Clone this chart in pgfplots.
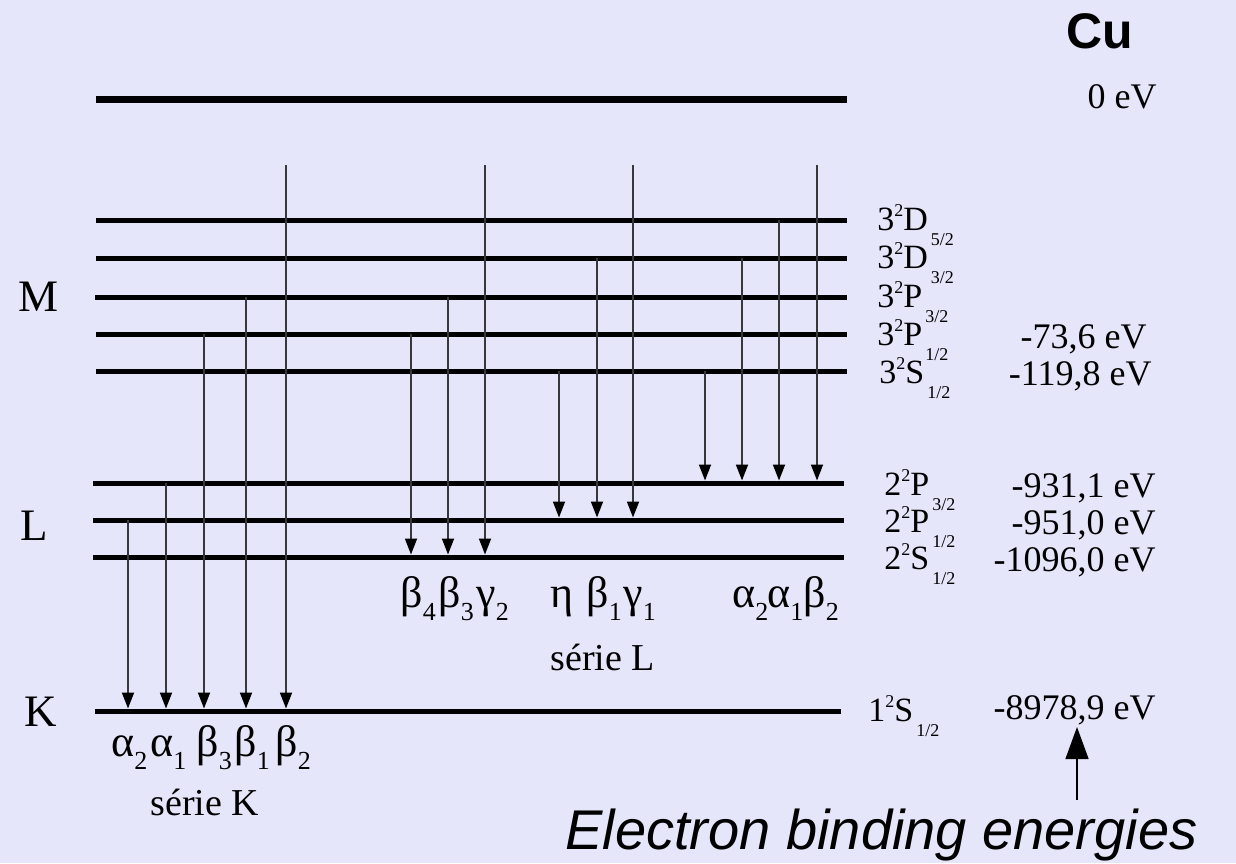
\documentclass[border=0pt]{standalone}
\usepackage{fontspec}
\setmainfont{Liberation Serif}
\newfontfamily\sansf{Liberation Sans}
\usepackage{pgfplots}
\pgfplotsset{compat=1.18}
\usetikzlibrary{arrows.meta}
\definecolor{bg}{RGB}{230,230,250}
\definecolor{shaft}{RGB}{55,55,60}
\newcommand{\term}[3]{\fontsize{17pt}{17pt}\selectfont #1\raisebox{0.40em}{\fontsize{9pt}{9pt}\selectfont 2}#2\kern1.5pt\raisebox{-0.45em}{\fontsize{9pt}{9pt}\selectfont #3}}
\newcommand{\gs}[2]{{\fontsize{22pt}{22pt}\selectfont #1}\raisebox{-6.5pt}{\fontsize{13pt}{13pt}\selectfont #2}}
\newcommand{\en}[1]{\fontsize{18pt}{18pt}\selectfont #1}
\begin{document}
\begin{tikzpicture}
\fill[bg] (0,0) rectangle (618pt,431.5pt);
\begin{axis}[scale only axis, width=618pt, height=431.5pt,
  xmin=0, xmax=1236, ymin=0, ymax=863, y dir=reverse, hide axis, clip=false,
  lev/.style={black, line width=2.5pt},
  arr/.style={shaft, line width=0.9pt, -{Triangle[length=8pt,width=6pt,color=black]}}]
% energy levels
\addplot[black, line width=3.5pt] coordinates {(96,99) (847,99)};
\addplot[lev] coordinates {(96,220) (847,220)};
\addplot[lev] coordinates {(96,258) (847,258)};
\addplot[lev] coordinates {(95,297) (847,297)};
\addplot[lev] coordinates {(96,334) (847,334)};
\addplot[lev] coordinates {(96,371) (847,371)};
\addplot[lev] coordinates {(93,483) (844,483)};
\addplot[lev] coordinates {(93,520) (844,520)};
\addplot[lev] coordinates {(93,557) (844,557)};
\addplot[lev] coordinates {(95,711) (841,711)};
% K series
\addplot[arr] coordinates {(128,520) (128,708.5)};
\addplot[arr] coordinates {(166,483) (166,708.5)};
\addplot[arr] coordinates {(204,334) (204,708.5)};
\addplot[arr] coordinates {(246,297) (246,708.5)};
\addplot[arr] coordinates {(286,165) (286,708.5)};
% L series
\addplot[arr] coordinates {(411,334) (411,554.5)};
\addplot[arr] coordinates {(448,297) (448,554.5)};
\addplot[arr] coordinates {(485,165) (485,554.5)};
\addplot[arr] coordinates {(559,371) (559,517.5)};
\addplot[arr] coordinates {(597,258) (597,517.5)};
\addplot[arr] coordinates {(633,165) (633,517.5)};
\addplot[arr] coordinates {(705,371) (705,480.5)};
\addplot[arr] coordinates {(742,258) (742,480.5)};
\addplot[arr] coordinates {(779,220) (779,480.5)};
\addplot[arr] coordinates {(817,165) (817,480.5)};
% binding-energy arrow
\addplot[black, line width=0.7pt, -{Triangle[length=16pt,width=11.5pt]}] coordinates {(1077,800) (1077,727)};
% shell names
\node[anchor=base] at (axis cs:39,311) {\fontsize{22.5pt}{24pt}\selectfont M};
\node[anchor=base] at (axis cs:34,540) {\fontsize{22.5pt}{24pt}\selectfont L};
\node[anchor=base] at (axis cs:41,726) {\fontsize{22.5pt}{24pt}\selectfont K};
% term symbols
\node[anchor=base west, inner sep=0pt] at (axis cs:877,230) {\term{3}{D}{5/2}};
\node[anchor=base west, inner sep=0pt] at (axis cs:877,268) {\term{3}{D}{3/2}};
\node[anchor=base west, inner sep=0pt] at (axis cs:877,307) {\term{3}{P}{3/2}};
\node[anchor=base west, inner sep=0pt] at (axis cs:877,345) {\term{3}{P}{1/2}};
\node[anchor=base west, inner sep=0pt] at (axis cs:879,383) {\term{3}{S}{1/2}};
\node[anchor=base west, inner sep=0pt] at (axis cs:884,495) {\term{2}{P}{3/2}};
\node[anchor=base west, inner sep=0pt] at (axis cs:884,532) {\term{2}{P}{1/2}};
\node[anchor=base west, inner sep=0pt] at (axis cs:884,569) {\term{2}{S}{1/2}};
\node[anchor=base west, inner sep=0pt] at (axis cs:868,721) {\term{1}{S}{1/2}};
% energies
\node[anchor=base east, inner sep=0pt] at (axis cs:1157,108) {\en{0 eV}};
\node[anchor=base east, inner sep=0pt] at (axis cs:1147,348) {\en{-73,6 eV}};
\node[anchor=base east, inner sep=0pt] at (axis cs:1152,385) {\en{-119,8 eV}};
\node[anchor=base east, inner sep=0pt] at (axis cs:1156,497) {\en{-931,1 eV}};
\node[anchor=base east, inner sep=0pt] at (axis cs:1156,534) {\en{-951,0 eV}};
\node[anchor=base east, inner sep=0pt] at (axis cs:1156,571) {\en{-1096,0 eV}};
\node[anchor=base east, inner sep=0pt] at (axis cs:1156,719) {\en{-8978,9 eV}};
% K series labels
\node[anchor=base west, inner sep=0pt] at (axis cs:111,756) {\gs{α}{2}};
\node[anchor=base west, inner sep=0pt] at (axis cs:150,756) {\gs{α}{1}};
\node[anchor=base west, inner sep=0pt] at (axis cs:196,756) {\gs{β}{3}};
\node[anchor=base west, inner sep=0pt] at (axis cs:234,756) {\gs{β}{1}};
\node[anchor=base west, inner sep=0pt] at (axis cs:275,756) {\gs{β}{2}};
\node[anchor=base west, inner sep=0pt] at (axis cs:150,815) {\fontsize{19pt}{19pt}\selectfont série K};
% L series labels
\node[anchor=base west, inner sep=0pt] at (axis cs:400,607) {\gs{β}{4}};
\node[anchor=base west, inner sep=0pt] at (axis cs:438,607) {\gs{β}{3}};
\node[anchor=base west, inner sep=0pt] at (axis cs:476,607) {\gs{γ}{2}};
\node[anchor=base west, inner sep=0pt] at (axis cs:550,607) {\fontsize{22pt}{22pt}\selectfont η};
\node[anchor=base west, inner sep=0pt] at (axis cs:586,607) {\gs{β}{1}};
\node[anchor=base west, inner sep=0pt] at (axis cs:623,607) {\gs{γ}{1}};
\node[anchor=base west, inner sep=0pt] at (axis cs:732,607) {\gs{α}{2}};
\node[anchor=base west, inner sep=0pt] at (axis cs:767,607) {\gs{α}{1}};
\node[anchor=base west, inner sep=0pt] at (axis cs:803,607) {\gs{β}{2}};
\node[anchor=base west, inner sep=0pt] at (axis cs:550,670) {\fontsize{19pt}{19pt}\selectfont série L};
% title and caption
\node[anchor=base west, inner sep=0pt] at (axis cs:1066,48) {\sansf\bfseries\fontsize{25pt}{25pt}\selectfont Cu};
\node[anchor=base west, inner sep=0pt] at (axis cs:565,849) {\sansf\itshape\fontsize{28pt}{28pt}\selectfont Electron binding energies};
\end{axis}
\end{tikzpicture}
\end{document}
